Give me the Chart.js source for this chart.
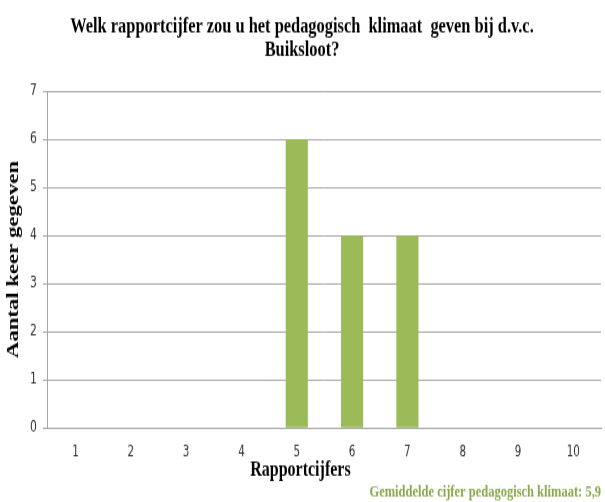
<!DOCTYPE html>
<html>
<head>
<meta charset="utf-8">
<script src="https://cdn.jsdelivr.net/npm/chart.js@4/dist/chart.umd.min.js"></script>
<style>
  html { overflow: hidden; }
  html, body { margin: 0; padding: 0; background: #fff; }
  body { height: 502px; }
  #wrap { width: 605px; height: 386px; transform: scale(1, 1.3); transform-origin: 0 0; }
</style>
</head>
<body>
<div id="wrap"><canvas id="myChart" width="605" height="386"></canvas></div>
<script>
// -- data --
const cijfers  = ['1', '2', '3', '4', '5', '6', '7', '8', '9', '10'];
const aantal   = [0, 0, 0, 0, 6, 4, 4, 0, 0, 0];
const titel    = ['Welk rapportcijfer zou u het pedagogisch  klimaat  geven bij d.v.c.', 'Buiksloot?'];
const yTitel   = 'Aantal keer gegeven';
const xTitel   = 'Rapportcijfers';
const voetnoot = 'Gemiddelde cijfer pedagogisch klimaat: 5,9';

const serif = "'Liberation Serif', 'Times New Roman', serif";
const narrow = "'Liberation Sans Narrow', 'DejaVu Sans Condensed', 'Liberation Sans', sans-serif";
const gridGrey = '#a6a6a6';

// x-as titel staat in het origineel iets links van het midden
const xTitlePlugin = {
    id: 'xTitle',
    afterDraw(chart) {
        const c = chart.ctx, area = chart.chartArea, xs = chart.scales.x;
        c.save();
        c.font = `bold 16px ${serif}`;
        c.fillStyle = '#000';
        c.textAlign = 'center';
        c.textBaseline = 'middle';
        c.fillText(xTitel, (area.left + area.right) / 2 - 24, xs.bottom + 3);
        c.restore();
    }
};

const ctx = document.getElementById('myChart').getContext('2d');
const myChart = new Chart(ctx, {
    type: 'bar',
    data: {
        labels: cijfers,
        datasets: [{
            data: aantal,
            backgroundColor: '#9bbb59',
            borderWidth: 0,
            categoryPercentage: 1,
            barPercentage: 0.4
        }]
    },
    options: {
        responsive: false,
        animation: false,
        devicePixelRatio: 1,
        layout: { padding: { left: 3, right: 4, top: 0, bottom: 0 } },
        plugins: {
            legend: { display: false },
            tooltip: { enabled: false },
            title: {
                display: true,
                text: titel,
                color: '#000',
                font: { family: serif, size: 16.4, weight: 'bold', lineHeight: 1.1 },
                padding: { top: 12, bottom: 22 }
            },
            subtitle: {
                display: true,
                position: 'bottom',
                align: 'end',
                text: voetnoot,
                color: '#8aa84c',
                font: { family: serif, size: 12.5, weight: 'bold' },
                padding: { top: 12, bottom: 0 }
            }
        },
        scales: {
            x: {
                grid: { display: false },
                border: { color: gridGrey, width: 1 },
                ticks: { color: '#333', font: { family: narrow, size: 11.5 }, padding: 4 }
            },
            y: {
                min: 0, max: 7,
                grid: { color: gridGrey, tickLength: 5 },
                border: { color: gridGrey, width: 1 },
                ticks: { stepSize: 1, color: '#333', font: { family: narrow, size: 12 }, padding: 6 },
                title: {
                    display: true, text: yTitel, color: '#000',
                    font: { family: serif, size: 17.5, weight: 'bold' },
                    padding: { top: 0, bottom: 0 }
                }
            }
        }
    },
    plugins: [xTitlePlugin]
});
</script>
</body>
</html>
